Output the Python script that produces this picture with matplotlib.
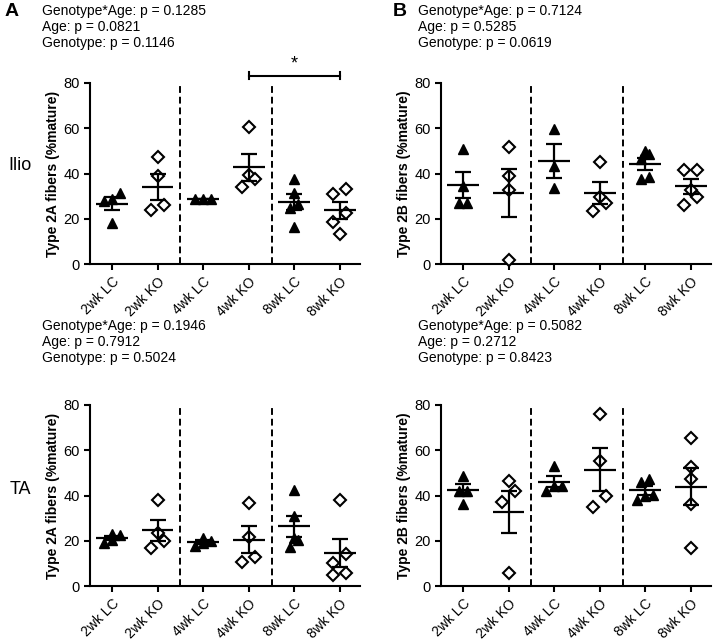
import numpy as np
import matplotlib.pyplot as plt

plt.rcParams['font.family'] = ['Liberation Sans', 'DejaVu Sans']

# data (% mature fibers)
groups = ['2wk LC', '2wk KO', '4wk LC', '4wk KO', '8wk LC', '8wk KO']
ilio_2a = [[28.6, 28.0, 31.5, 18.3], [47.4, 38.9, 23.9, 25.9], [28.9, 28.6, 28.8],
           [60.4, 39.3, 34.2, 37.4], [37.7, 31.5, 26.5, 24.6, 16.5],
           [30.9, 33.0, 22.4, 18.7, 13.3]]
ilio_2b = [[50.9, 34.3, 27.1, 27.1], [51.9, 38.9, 32.7, 1.8], [59.5, 43.3, 33.4],
           [45.2, 29.8, 27.1, 23.6], [48.6, 50.1, 46.3, 37.4, 38.3],
           [41.5, 41.5, 32.7, 29.5, 26.1]]
ta_2a = [[22.5, 23.0, 19.0, 20.5], [38.1, 23.4, 19.9, 16.8], [19.0, 17.6, 21.4, 19.8],
         [36.6, 21.7, 10.7, 12.9], [42.5, 30.8, 21.0, 20.2, 17.3],
         [37.8, 14.1, 10.0, 5.9, 4.8]]
ta_2b = [[48.8, 42.2, 42.0, 36.3], [46.3, 41.9, 37.1, 5.6], [53.2, 44.4, 44.2, 42.2],
         [76.2, 55.1, 39.7, 34.9], [47.3, 45.9, 40.4, 39.7, 37.8],
         [65.6, 52.7, 47.3, 36.3, 17.0]]

pvals_ilio_2a = ['0.1285', '0.0821', '0.1146']
pvals_ilio_2b = ['0.7124', '0.5285', '0.0619']
pvals_ta_2a = ['0.1946', '0.7912', '0.5024']
pvals_ta_2b = ['0.5082', '0.2712', '0.8423']


def swarm_offsets(ax, vals, thresh, spacing):
    # group points that would overlap vertically, spread them symmetrically
    ypx = ax.transData.transform([(0, 0), (0, 1)])
    ppu_y = ypx[1, 1] - ypx[0, 1]
    xpx = ax.transData.transform([(0, 0), (1, 0)])
    ppu_x = xpx[1, 0] - xpx[0, 0]
    vals = np.asarray(vals)
    order = np.argsort(vals)
    offs = np.zeros(len(vals))
    rows = []
    for i in order:
        if rows and (vals[i] - vals[rows[-1][0]]) * ppu_y < thresh:
            rows[-1].append(i)
        else:
            rows.append([i])
    for r in rows:
        n = len(r)
        for k, i in enumerate(r):
            offs[i] = (k - (n - 1) / 2) * spacing / ppu_x
    return offs


def panel(ax, data, ylabel):
    ax.set_xlim(-0.48, 5.44)
    ax.set_ylim(0, 80)
    for i, vals in enumerate(data):
        if i % 2 == 0:
            offs = swarm_offsets(ax, vals, 8, 8)
            ax.plot(i + offs, vals, ls='none', marker='^', ms=6.8, color='black',
                    zorder=3, clip_on=False)
        else:
            offs = swarm_offsets(ax, vals, 11, 13)
            ax.plot(i + offs, vals, ls='none', marker='D', ms=6.3, mfc='white',
                    mec='black', mew=1.5, zorder=3, clip_on=False)
        m = np.mean(vals)
        sem = np.std(vals, ddof=1) / np.sqrt(len(vals))
        ax.hlines(m, i - 0.35, i + 0.35, color='black', lw=1.6, zorder=4)
        ax.errorbar(i, m, yerr=sem, fmt='none', ecolor='black', elinewidth=1.6,
                    capsize=5.5, capthick=1.6, zorder=4)
    for xd in (1.5, 3.5):
        ax.plot([xd, xd], [0, 79.5], color='black', lw=1.4, ls=(0, (3.5, 2)), zorder=2)
    for s in ('top', 'right'):
        ax.spines[s].set_visible(False)
    for s in ('left', 'bottom'):
        ax.spines[s].set_linewidth(1.5)
    ax.set_yticks([0, 20, 40, 60, 80])
    ax.set_xticks(range(len(groups)))
    ax.tick_params(width=1.5, length=4, labelsize=10.5, colors='black')
    ax.set_xticklabels(groups, rotation=45, ha='right', rotation_mode='anchor',
                       fontsize=10)
    ax.set_ylabel(ylabel, fontsize=10, fontweight='bold')
    ax.yaxis.set_label_coords(-0.11, 0.5)


fig = plt.figure(figsize=(7.16, 6.41), dpi=100)
W, H = 716, 641


def add_ax(left_px, bottom_px):
    return fig.add_axes([left_px / W, 1 - bottom_px / H, 270 / W, 181 / H])


axA1 = add_ax(90, 264)
axB1 = add_ax(441, 264)
axA2 = add_ax(90, 586)
axB2 = add_ax(441, 586)

panel(axA1, ilio_2a, 'Type 2A fibers (%mature)')
panel(axB1, ilio_2b, 'Type 2B fibers (%mature)')
panel(axA2, ta_2a, 'Type 2A fibers (%mature)')
panel(axB2, ta_2b, 'Type 2B fibers (%mature)')

# significance bracket 4wk KO vs 8wk KO
axA1.plot([3, 5], [83.2, 83.2], color='black', lw=1.5, clip_on=False)
for xb in (3, 5):
    axA1.plot([xb, xb], [81.7, 84.7], color='black', lw=1.5, clip_on=False)
axA1.text(4, 84.5, '*', ha='center', va='bottom', fontsize=13)


def ptext(x_px, y_px, pv):
    labels = ['Genotype*Age: p = ', 'Age: p = ', 'Genotype: p = ']
    for k, (lab, p) in enumerate(zip(labels, pv)):
        fig.text(x_px / W, 1 - (y_px + 16 * k) / H, lab + p, ha='left', va='center',
                 fontsize=10)


ptext(42, 11, pvals_ilio_2a)
ptext(418, 11, pvals_ilio_2b)
ptext(42, 326, pvals_ta_2a)
ptext(418, 326, pvals_ta_2b)

fig.text(5 / W, 1 - 11 / H, 'A', fontsize=14, fontweight='bold', va='center')
fig.text(393 / W, 1 - 11 / H, 'B', fontsize=14, fontweight='bold', va='center')
fig.text(20 / W, 1 - 166 / H, 'Ilio', fontsize=13, ha='center', va='center')
fig.text(20 / W, 1 - 490 / H, 'TA', fontsize=13, ha='center', va='center')

fig.savefig('out.png', dpi=100)
